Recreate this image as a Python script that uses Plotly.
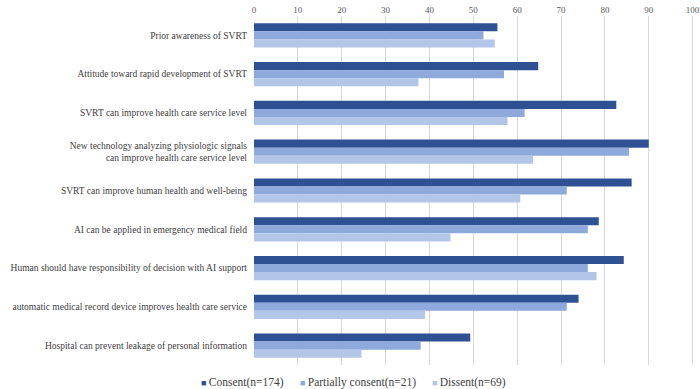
import plotly.graph_objects as go

categories = [
    "Prior awareness of SVRT",
    "Attitude toward rapid development of SVRT",
    "SVRT can improve health care service level",
    "New technology analyzing physiologic signals<br>can improve health care service level",
    "SVRT can improve human health and well-being",
    "AI can be applied in emergency medical field",
    "Human should have responsibility of decision with AI support",
    "automatic medical record device improves health care service",
    "Hospital can prevent leakage of personal information",
]
consent = [55.5, 64.8, 82.6, 90.0, 86.1, 78.6, 84.3, 74.0, 49.3]
partial = [52.3, 57.0, 61.7, 85.5, 71.3, 76.1, 76.1, 71.3, 38.0]
dissent = [54.9, 37.5, 57.8, 63.6, 60.7, 44.8, 78.1, 39.0, 24.5]
series_names = ["Consent(n=174)", "Partially consent(n=21)", "Dissent(n=69)"]
colors = ["#2E5194", "#8EA9DB", "#B4C6E7"]
tick_vals = [0, 10, 20, 30, 40, 50, 60, 70, 80, 90, 100]

font_family = "Liberation Serif, DejaVu Serif, serif"

fig = go.Figure()
for name, vals, col in zip(series_names, [consent, partial, dissent], colors):
    fig.add_trace(go.Bar(
        y=categories, x=vals, name=name, orientation="h",
        marker=dict(color=col, line=dict(width=0)),
        showlegend=False,
    ))

# Legend drawn as text annotations to match the compact reference spacing
plot_left, plot_w = 254, 443
legend_px = [199, 298, 430]
for name, col, px in zip(series_names, colors, legend_px):
    fig.add_annotation(
        xref="paper", yref="paper",
        x=(px - plot_left) / plot_w, y=-0.051,
        xanchor="left", yanchor="middle", showarrow=False,
        text=f'<span style="color:{col};font-size:9px">■</span>\u2009{name}',
        font=dict(family=font_family, size=11.5, color="#404040"),
    )

fig.update_layout(
    width=700, height=389,
    barmode="group", bargap=0.375, bargroupgap=0,
    plot_bgcolor="white", paper_bgcolor="white",
    margin=dict(l=254, r=3, t=16, b=24, autoexpand=False),
    font=dict(family=font_family, size=9.5, color="#595959"),
    showlegend=False,
    xaxis=dict(
        side="top", range=[0, 101], tickvals=tick_vals,
        showgrid=True, gridcolor="#D9D9D9", gridwidth=1,
        zeroline=False, showline=False, ticks="",
        tickfont=dict(size=9, color="#595959"),
        automargin=False, ticklabeloverflow="allow",
    ),
    yaxis=dict(
        autorange="reversed", showgrid=False, showline=False, ticks="",
        tickfont=dict(size=9.5, color="#404040"), ticklabelstandoff=6,
        automargin=False,
    ),
)

fig.write_html(
    "out.html",
    config={"displayModeBar": False},
    post_script="document.body.style.margin='0';",
)
